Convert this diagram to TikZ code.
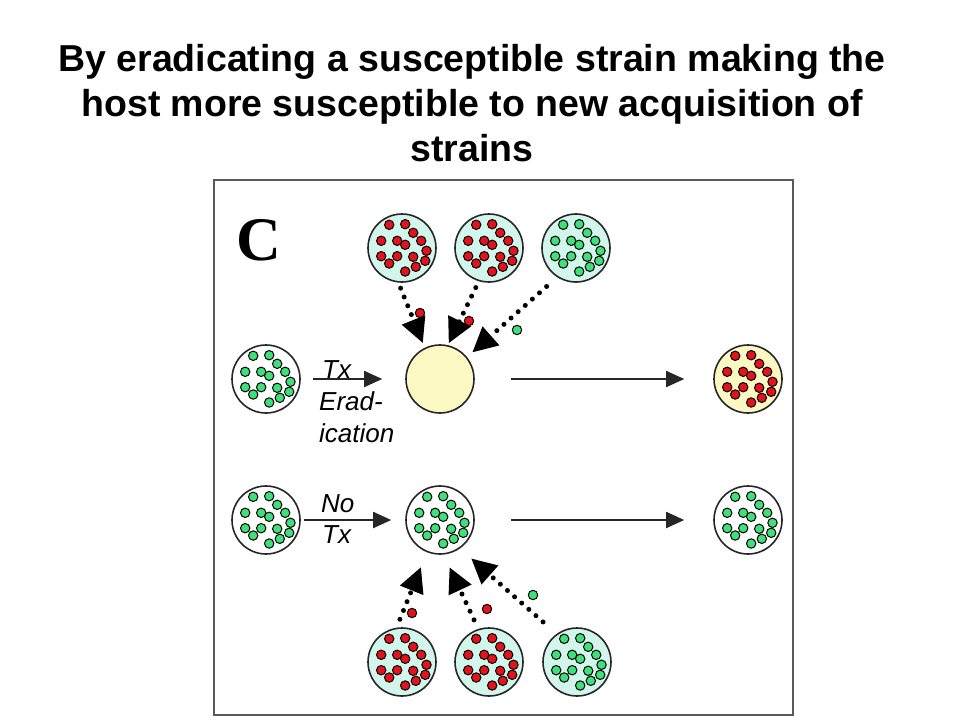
\documentclass[tikz,border=0pt]{standalone}
\usepackage{fontspec}
\setmainfont{Liberation Sans}
\newfontfamily\panelfont{Liberation Serif}
\usepackage{xcolor}
\usetikzlibrary{arrows.meta,positioning}

\definecolor{mint}{HTML}{D2F5EC}
\definecolor{pale}{HTML}{FBF8C4}
\definecolor{bugred}{HTML}{E3131C}
\definecolor{buggreen}{HTML}{3FE07A}

% 15 bacteria inside a colony circle
\newcommand{\bugs}[2]{%
  \begin{scope}[shift={(#1)}]
    \foreach \dx/\dy in {-12.8/-23.2, 3.2/-23.8, 11.2/-15.2, 19.2/-7.2, -20.8/-7.2,
        -4.8/-7.2, 3.2/-3.2, 24.5/2.8, 23.2/12.8, -20.8/8.2, -4.8/8.2, 11.2/8.8,
        -12.8/15.5, 13.8/18.8, 3.2/23.5}
      \filldraw[fill=#2, draw=black, line width=1pt] (\dx,\dy) circle (4.7);
  \end{scope}
}

\begin{document}
\begin{tikzpicture}[x=1pt, y=-1pt,
    colony/.style={circle, draw=black!85, line width=1.6pt, minimum size=68pt, inner sep=0pt},
    flow/.style={-{Triangle[length=18pt,width=16pt]}, line width=1.8pt, draw=black!85},
    dotarrow/.style={-{Triangle[length=25pt,width=24pt]}, line width=5pt, line cap=round, dash pattern=on 0pt off 9.5pt},
    lbl/.style={font=\itshape\fontsize{26}{26}\selectfont, inner sep=0pt, anchor=base west}]
    \useasboundingbox (0,0) rectangle (960,720);

    \node [font=\bfseries\fontsize{37.5}{45}\selectfont, align=center] (title) at (472,103)
        {By eradicating a susceptible strain making the\\host more susceptible to new acquisition of\\strains};
    \draw [black!65, line width=1.5pt] (214,180) rectangle (793,715);
    \node [font=\panelfont\bfseries\fontsize{62}{62}\selectfont, inner sep=0pt] (panel) at (259,240) {C};

    % donor colonies
    \node [colony, fill=mint] (t1) at (402,248) {};
    \node [colony, fill=mint] (t2) at (489,248) {};
    \node [colony, fill=mint] (t3) at (576,248) {};
    \node [colony, fill=mint] (b1) at (402,662) {};
    \node [colony, fill=mint] (b2) at (489,662) {};
    \node [colony, fill=mint] (b3) at (577,662) {};

    % hosts
    \node [colony, fill=white] (src1) at (266,379) {};
    \node [colony, fill=pale] (host) at (440,379) {};
    \node [colony, fill=pale] (res1) at (748,379) {};
    \node [colony, fill=white] (src2) at (266,520) {};
    \node [colony, fill=white] (mid) at (440,520) {};
    \node [colony, fill=white] (res2) at (748,520) {};

    \bugs{t1}{bugred} \bugs{t2}{bugred} \bugs{t3}{buggreen}
    \bugs{b1}{bugred} \bugs{b2}{bugred} \bugs{b3}{buggreen}
    \bugs{src1}{buggreen} \bugs{res1}{bugred}
    \bugs{src2}{buggreen} \bugs{mid}{buggreen} \bugs{res2}{buggreen}

    \draw [flow, shorten <=12pt, shorten >=23pt] (src1) -- (host);
    \draw [flow, shorten <=36pt, shorten >=29pt] (host) -- (res1);
    \draw [flow, shorten <=3pt, shorten >=14pt] (src2) -- (mid);
    \draw [flow, shorten <=36pt, shorten >=29pt] (mid) -- (res2);

    \node [lbl] (tx1) at (322,378) {Tx};
    \node [lbl] (erad) at (319,410) {Erad-};
    \node [lbl] (ication) at (319,442) {ication};
    \node [lbl] (no) at (321,512) {No};
    \node [lbl] (tx2) at (322,543) {Tx};

    % acquisition of new strains
    \draw [dotarrow, shorten <=6pt, shorten >=5pt] (t1.-96) -- (host.116);
    \draw [dotarrow, shorten <=7pt, shorten >=2pt] (t2.-107) -- (host.77);
    \draw [dotarrow, shorten <=14pt, shorten >=7pt] (t3.-123) -- (host.39);
    \draw [dotarrow, shorten <=9pt, shorten >=16pt] (b1.99) -- (mid.-112);
    \draw [dotarrow, shorten <=10pt, shorten >=14pt] (b2.108) -- (mid.-84);
    \draw [dotarrow, shorten <=18pt, shorten >=15pt] (b3.126) -- (mid.-55);

    \filldraw [fill=bugred, draw=black, line width=1pt] (420,313) circle (4.7);
    \filldraw [fill=bugred, draw=black, line width=1pt] (469,321) circle (4.7);
    \filldraw [fill=buggreen, draw=black, line width=1pt] (517,330) circle (4.7);
    \filldraw [fill=bugred, draw=black, line width=1pt] (412,613) circle (4.7);
    \filldraw [fill=bugred, draw=black, line width=1pt] (487,609) circle (4.7);
    \filldraw [fill=buggreen, draw=black, line width=1pt] (533,595) circle (4.7);
\end{tikzpicture}
\end{document}
